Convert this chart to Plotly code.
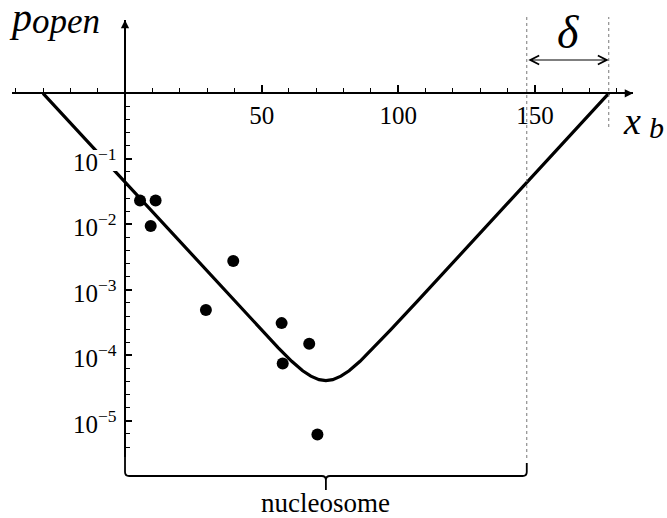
import plotly.graph_objects as go

# ---------------- data ----------------
nucleosome_start = 0
nucleosome_end = 147
delta = 30

curve_x = [-30, -20, -10, 0, 10, 20, 30, 40, 50, 56, 61, 65, 68, 71, 73.5,
           76, 79, 82, 86, 91, 97, 107, 117, 127, 137, 147, 157, 167, 177]
curve_p = [1.0, 0.352, 0.124, 0.0437, 0.0155, 0.0054, 0.0019, 6.7e-4, 2.4e-4,
           1.31e-4, 8.1e-5, 5.8e-5, 4.8e-5, 4.25e-5, 4.1e-5,
           4.25e-5, 4.8e-5, 5.8e-5, 8.1e-5, 1.31e-4, 2.4e-4, 6.7e-4, 1.9e-3,
           5.4e-3, 0.0155, 0.0437, 0.124, 0.352, 1.0]

dots_x = [5.5, 11.2, 9.4, 29.6, 39.6, 57.3, 57.7, 67.4, 70.4]
dots_p = [0.023, 0.023, 0.0094, 4.9e-4, 2.75e-3, 3.1e-4, 7.5e-5, 1.5e-4, 6.2e-6]

x_tick_vals = [50, 100, 150]
x_tick_text = ["50", "100", "150"]
y_decades = [1, 2, 3, 4, 5]

# ---------------- figure ----------------
W, H = 667, 518
FONT = "Liberation Serif"


def P(py):
    """pixel row -> paper y"""
    return 1 - py / H


fig = go.Figure()
fig.add_trace(go.Scatter(x=curve_x, y=curve_p, mode="lines",
                         line=dict(color="black", width=3.2),
                         hoverinfo="skip", showlegend=False))
fig.add_trace(go.Scatter(x=dots_x, y=dots_p, mode="markers",
                         marker=dict(color="black", size=12),
                         hoverinfo="skip", showlegend=False))
# empty trace so the minor-tick overlay axis is drawn
fig.add_trace(go.Scatter(x=[None], y=[None], yaxis="y2", mode="markers",
                         hoverinfo="skip", showlegend=False))

y_minor = [10 ** (-(d + f / 10)) for d in range(0, 6) for f in (2, 4, 6, 8)
           if d + f / 10 < 5.5]

y_domain = [P(456.7), P(20)]
y_range = [-5.548, 1.119]

fig.update_layout(
    width=W, height=H, autosize=False,
    margin=dict(l=0, r=0, t=0, b=0, pad=0),
    paper_bgcolor="white", plot_bgcolor="white",
    font=dict(family=FONT, color="black", size=25),
    xaxis=dict(
        domain=[12 / W, 633 / W], range=[-41.35, 185.87],
        anchor="free", position=P(93.3), side="bottom",
        showline=True, linecolor="black", linewidth=2,
        showgrid=False, zeroline=False,
        tickmode="array", tickvals=x_tick_vals, ticktext=x_tick_text,
        ticks="inside", ticklen=7, tickwidth=1.5, tickcolor="black",
        tickfont=dict(family=FONT, size=25, color="black"),
        minor=dict(dtick=10, tick0=0, ticks="inside", ticklen=4,
                   tickwidth=1.3, tickcolor="black", showgrid=False),
    ),
    yaxis=dict(
        type="log", domain=y_domain, range=y_range,
        anchor="free", position=125 / W, side="left",
        showline=True, linecolor="black", linewidth=2,
        showgrid=False, zeroline=False,
        tickmode="array", tickvals=[10 ** (-d) for d in y_decades],
        showticklabels=False,
        ticks="inside", ticklen=6, tickwidth=1.5, tickcolor="black",
    ),
    yaxis2=dict(
        type="log", domain=y_domain, range=y_range, overlaying="y",
        anchor="free", position=125 / W, side="left",
        showline=False, showgrid=False, zeroline=False,
        tickmode="array", tickvals=y_minor, showticklabels=False,
        ticks="inside", ticklen=3.5, tickwidth=1.3, tickcolor="black",
    ),
)

ann = []
# y tick labels
for d in y_decades:
    ann.append(dict(x=0, xref="x", y=-d, yref="y", xanchor="right",
                    yanchor="middle", xshift=-6, yshift=-1,
                    text=f"10<sup>\u2212{d}</sup>", showarrow=False,
                    font=dict(family=FONT, size=25, color="black")))

# axis arrow heads
ann.append(dict(x=185.87, xref="x", y=0, yref="y", ax=-14, ay=0,
                showarrow=True, arrowhead=2, arrowsize=1.1, arrowwidth=1.5,
                arrowcolor="black", text=""))
ann.append(dict(x=0, xref="x", y=1.119, yref="y", ax=0, ay=14,
                showarrow=True, arrowhead=2, arrowsize=1.1, arrowwidth=1.5,
                arrowcolor="black", text=""))

# delta double arrow
ann.append(dict(x=nucleosome_end + delta, xref="x", y=P(60), yref="paper",
                ax=nucleosome_end, axref="x", ay=0, ayref="pixel",
                showarrow=True, arrowside="end+start", arrowhead=5,
                startarrowhead=5, arrowsize=1.6, startarrowsize=1.6,
                arrowwidth=1.1, arrowcolor="black", text=""))
ann.append(dict(x=nucleosome_end + delta / 2, xref="x", y=P(33), yref="paper",
                text="<i>δ</i>", showarrow=False, xanchor="center",
                yanchor="middle",
                font=dict(family=FONT, size=46, color="black")))

# axis titles
ann.append(dict(x=7 / W, xref="paper", y=P(17), yref="paper", text="<i>p</i>",
                showarrow=False, xanchor="left", yanchor="middle",
                font=dict(family=FONT, size=40, color="black")))
ann.append(dict(x=30 / W, xref="paper", y=P(21), yref="paper",
                text="<i>open</i>", showarrow=False, xanchor="left",
                yanchor="middle",
                font=dict(family=FONT, size=35, color="black")))
ann.append(dict(x=621 / W, xref="paper", y=P(121), yref="paper",
                text="<i>x</i>", showarrow=False, xanchor="left",
                yanchor="middle",
                font=dict(family=FONT, size=38, color="black")))
ann.append(dict(x=647 / W, xref="paper", y=P(127), yref="paper",
                text="<i>b</i>", showarrow=False, xanchor="left",
                yanchor="middle",
                font=dict(family=FONT, size=30, color="black")))

# nucleosome label
mid = (nucleosome_start + nucleosome_end) / 2
ann.append(dict(x=mid, xref="x", y=P(503), yref="paper", text="nucleosome",
                showarrow=False, xanchor="center", yanchor="middle",
                font=dict(family=FONT, size=27, color="black")))
fig.update_layout(annotations=ann)

# dotted guide lines
shapes = [
    dict(type="line", xref="x", yref="paper", x0=nucleosome_end,
         x1=nucleosome_end, y0=P(458), y1=P(17),
         line=dict(color="#777777", width=1, dash="dot")),
    dict(type="line", xref="x", yref="paper", x0=nucleosome_end + delta,
         x1=nucleosome_end + delta, y0=P(127), y1=P(17),
         line=dict(color="#777777", width=1, dash="dot")),
    # white knock-out of the curve behind the 10^-1 label
    dict(type="rect", xref="paper", yref="paper", layer="above",
         x0=70 / W, x1=121 / W, y0=P(171), y1=P(150),
         fillcolor="white", line=dict(width=0)),
]
# brace under the nucleosome
s, e = nucleosome_start, nucleosome_end
r = 1.5
path = (f"M {s},{P(455)} L {s},{P(472)} Q {s},{P(476)} {s + r},{P(476)} "
        f"L {mid - r},{P(476)} Q {mid},{P(476)} {mid},{P(480)} L {mid},{P(490)} "
        f"M {mid},{P(480)} Q {mid},{P(476)} {mid + r},{P(476)} "
        f"L {e - r},{P(476)} Q {e},{P(476)} {e},{P(472)} L {e},{P(463)}")
shapes.append(dict(type="path", xref="x", yref="paper", path=path,
                   line=dict(color="black", width=1.8)))
fig.update_layout(shapes=shapes)

fig.write_html(
    "out.html",
    config={"displayModeBar": False},
    post_script="document.body.style.margin='0';"
                "document.body.style.overflow='hidden';",
)
